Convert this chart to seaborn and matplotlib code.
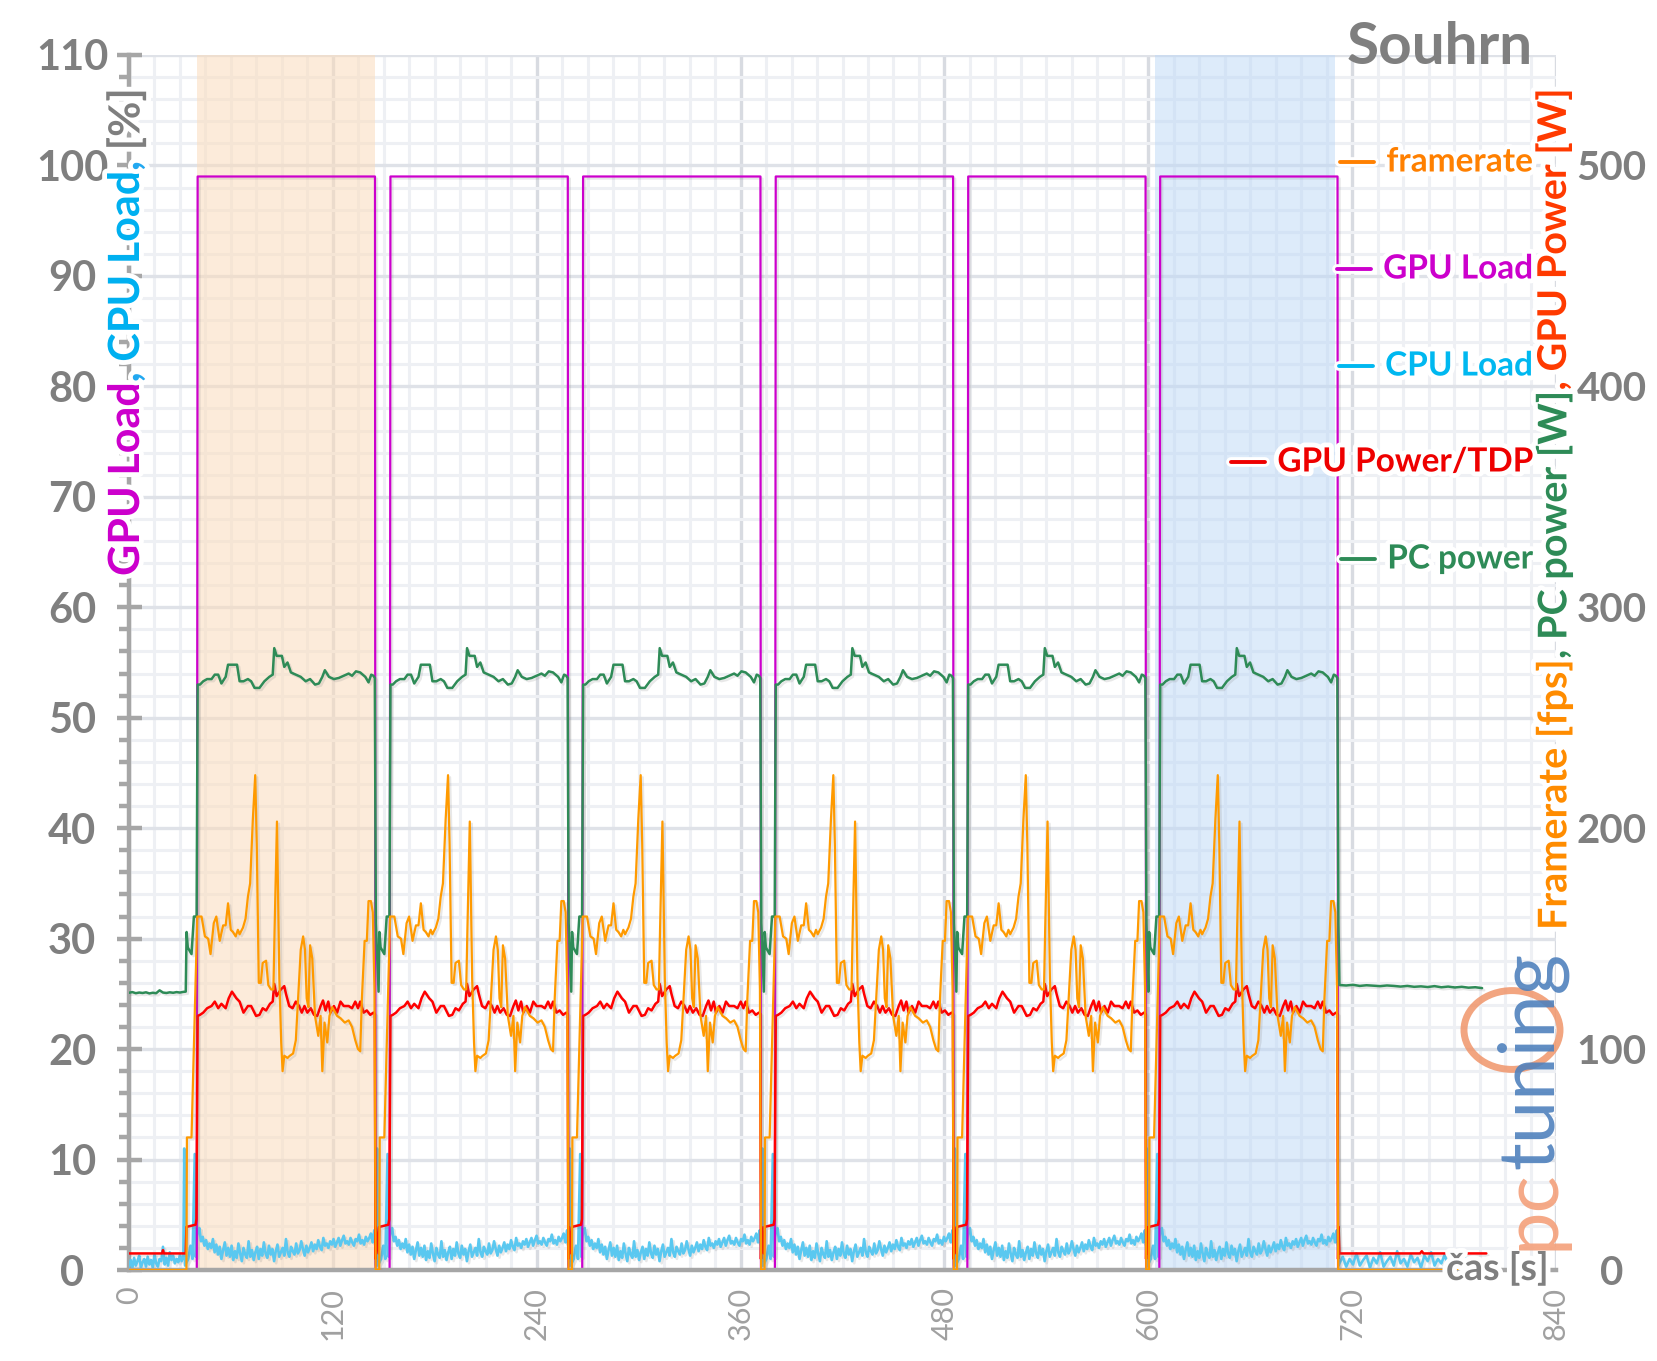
import numpy as np
import pandas as pd
import matplotlib
matplotlib.use("Agg")
import matplotlib.pyplot as plt
import seaborn as sns
from matplotlib import patheffects as pe
from matplotlib.lines import Line2D
from matplotlib.patches import Circle

sns.set_theme(style="white")
plt.rcParams["font.family"] = ["Lato", "DejaVu Sans"]

# ---------------- data ----------------
run_starts = [40.4, 153.9, 267.3, 380.7, 494.0, 607.0]
shade_orange = [40.0, 145.0]
shade_blue = [604.0, 710.0]

# GPU load [%]
gl_idle_pre_t = [0, 33]
gl_idle_pre_v = [0, 0]
gl_pre_rel = [-0.5]
gl_pre_v = [0]
gl_run_rel = [0.0, 104.4]
gl_run_v = [99, 99]
gl_post_rel = [104.7]
gl_post_v = [0]
gl_idle_post_t = [712.5, 799]
gl_idle_post_v = [0, 0]

# CPU load [%]
cpu_idle_pre_t = list(range(0, 33))
cpu_idle_pre_v = [0.3, 0.9, 0.2, 1.1, 0.4, 0.8, 1.3, 0.2, 0.7, 1.0, 0.3, 1.2, 0.5,
                  0.9, 0.2, 1.4, 0.6, 0.3, 1.0, 0.8, 2.1, 0.5, 1.1, 0.4, 1.6, 0.9,
                  1.3, 0.6, 1.0, 0.7, 1.4, 0.8, 1.2]
cpu_pre_rel = [-7.9, -7.4, -5.5, -4.2, -3.0, -1.7, -1.1, -0.4]
cpu_pre_v = [11.0, 0.4, 1.0, 2.2, 1.0, 10.5, 1.2, 3.0]
cpu_run_rel = list(range(0, 105))
cpu_run_v = [3.4, 3.8, 2.6, 3.0, 2.2, 2.7, 1.9, 2.4, 2.0, 2.8,
             1.6, 2.3, 1.4, 2.1, 1.0, 1.8, 2.5, 1.3, 2.0, 1.2,
             2.2, 0.9, 1.7, 1.1, 2.4, 1.5, 0.8, 2.0, 1.4, 1.1,
             2.6, 1.2, 1.8, 0.9, 1.6, 2.1, 1.0, 1.9, 1.3, 2.5,
             1.5, 1.1, 2.2, 1.4, 1.9, 0.8, 1.7, 2.3, 1.2, 1.6,
             2.0, 1.3, 2.8, 1.6, 1.2, 2.1, 1.7, 1.4, 2.4, 1.5,
             1.8, 2.6, 1.9, 1.3, 2.2, 1.6, 2.0, 2.5, 1.7, 2.3,
             1.9, 2.7, 2.1, 1.8, 2.9, 2.2, 2.4, 2.0, 2.6, 2.3,
             2.8, 2.1, 2.5, 2.9, 2.2, 2.7, 3.1, 2.4, 2.6, 2.3,
             2.9, 2.5, 2.2, 2.8, 2.6, 3.2, 2.4, 2.7, 2.3, 3.0,
             2.6, 2.9, 3.3, 2.5, 3.6]
cpu_post_rel = [104.7, 105.0]
cpu_post_v = [2.0, 0.4]
cpu_idle_post_t = [712.5 + 2 * i for i in range(39)]
cpu_idle_post_v = [0.6, 1.2, 0.3, 1.0, 0.5, 1.5, 0.4, 0.9, 1.3, 0.2, 1.1, 0.6, 1.6,
                   0.3, 0.8, 1.2, 0.4, 1.7, 0.6, 1.0, 0.3, 1.4, 0.7, 1.1, 0.2, 1.3,
                   0.8, 1.6, 0.4, 1.0, 0.6, 1.4, 0.3, 1.2, 0.7, 1.5, 0.5, 1.1, 0.6]

# Framerate [fps]
fps_idle_pre_t = [0, 33]
fps_idle_pre_v = [0, 0]
fps_pre_rel = [-6.6, -6.3, -3.6, -0.2]
fps_pre_v = [0, 60, 60, 160]
fps_run_rel = [0.4, 2.3, 4.3, 6.2, 7.6, 9.5, 11.0, 13.0, 15.0, 16.5, 17.9, 19.5, 20.8,
               22.4, 23.7, 24.7, 26.7, 28.2, 29.6, 30.9, 32.5, 33.9, 34.8, 36.0, 37.2,
               38.3, 40.3, 41.6, 43.2, 44.6, 45.3, 46.7, 48.1, 49.2, 50.0, 51.0, 52.9,
               54.3, 56.2, 57.8, 59.4, 60.7, 62.1, 63.2, 64.2, 65.2, 66.2, 67.5, 69.1,
               71.0, 72.4, 73.4, 74.7, 76.3, 77.6, 79.2, 82.1, 84.1, 86.6, 88.9, 90.9,
               92.8, 94.4, 95.7, 96.7, 98.3, 99.6, 100.6, 102.0, 103.1, 104.1]
fps_run_v = [160, 160, 151, 150, 143, 157, 160, 149, 156, 156, 166, 154, 153,
             151, 154, 152, 155, 159, 169, 175, 204, 224, 193, 130, 130,
             139, 140, 129, 127, 127, 154, 203, 132, 103, 90, 97, 96,
             97, 98, 104, 127, 145, 151, 145, 123, 119, 147, 141, 115,
             106, 115, 90, 112, 103, 115, 119, 115, 114, 112, 113, 110,
             104, 100, 99, 123, 149, 149, 167, 167, 162, 127]
fps_post_rel = [104.8]
fps_post_v = [0]
fps_idle_post_t = [712.5, 799]
fps_idle_post_v = [0, 0]

# PC power [W]
pc_idle_pre_t = list(range(0, 33, 2))
pc_idle_pre_v = [125.5, 125.8, 125.3, 125.6, 125.4, 125.7, 125.2, 125.5, 125.3,
                 126.6, 125.6, 125.4, 125.7, 125.5, 125.8, 125.6, 125.9]
pc_pre_rel = [-7.0, -6.5, -5.8, -3.6, -2.2, -0.6]
pc_pre_v = [126, 153, 146, 143, 160, 160]
pc_run_rel = [0.0, 1.4, 3.3, 5.6, 8.2, 10.1, 12.1, 14.0, 16.5, 17.9, 19.8, 23.2, 24.7,
              27.0, 29.6, 31.5, 33.5, 36.4, 39.3, 42.2, 44.2, 45.1, 46.5, 49.6, 51.0,
              52.9, 54.9, 57.8, 60.7, 63.6, 66.2, 69.1, 71.4, 73.4, 74.9, 77.3, 80.2,
              83.1, 86.0, 88.9, 90.9, 93.2, 95.7, 98.7, 100.6, 102.2, 103.5, 104.3]
pc_run_v = [265, 265, 266.5, 267.5, 267.5, 269.5, 269.5, 265.5, 268.5, 274, 274, 274, 266.5,
            266.5, 267.5, 266.5, 263.5, 263.5, 266.5, 268.5, 269.5, 281.5, 278, 278, 273,
            275, 270.5, 269.5, 268.5, 266.5, 267.5, 265, 265.5, 268.5, 271.5, 268.5, 267.5,
            268, 269, 270, 269, 271, 270.5, 268.5, 266, 269.5, 269, 268]
pc_post_rel = [104.9]
pc_post_v = [157]
pc_idle_post_t = [712.5 + 4 * i for i in range(22)]
pc_idle_post_v = [129.0, 128.8, 129.1, 128.6, 128.9, 128.7, 128.5, 128.8, 128.6, 128.3,
                  128.6, 128.2, 128.4, 128.1, 128.5, 128.0, 128.3, 127.9, 128.2, 127.8,
                  128.0, 127.6]

# GPU power [W]
gp_idle_pre_t = [0, 19.5, 20.0, 20.5, 33.0]
gp_idle_pre_v = [7.5, 7.5, 9.0, 7.5, 7.5]
gp_pre_rel = [-7.0, -6.6, -1.2, -0.7]
gp_pre_v = [7.5, 19.5, 20.5, 23]
gp_run_rel = [0.0, 1.4, 3.3, 5.6, 8.2, 10.1, 12.1, 14.0, 16.5, 18.3, 20.2, 22.8, 24.7,
              27.0, 29.6, 31.5, 34.4, 36.4, 38.3, 40.3, 42.6, 44.2, 45.1, 46.5, 49.0,
              51.0, 52.0, 53.9, 55.9, 57.8, 59.7, 61.3, 62.9, 64.6, 66.6, 68.5, 70.4,
              72.4, 73.8, 75.3, 76.9, 78.2, 80.2, 82.1, 84.1, 86.0, 88.9, 90.9, 92.8,
              94.4, 95.7, 97.7, 99.6, 101.6, 103.5, 104.3]
gp_run_v = [115, 115.5, 116.5, 118.5, 119.5, 121.5, 118.5, 120.5, 118.5, 123, 126, 123, 121.5,
            116.5, 119.5, 119.5, 115, 115.5, 118.5, 117.5, 120.5, 121.5, 129.5, 124, 127,
            128.5, 125, 119.5, 118.5, 121.5, 119.5, 116.5, 119.5, 116.5, 118.5, 115.5, 115,
            119.5, 122, 117.5, 121.5, 116.5, 119.5, 116.5, 121.5, 119.5, 119.5, 118.5, 121.5,
            118.5, 121.5, 116.5, 117.5, 115.5, 116.5, 116]
gp_post_rel = [104.7, 105.0]
gp_post_v = [5, 19.5]
gp_idle_post_t = [712.5, 760, 761, 762, 799]
gp_idle_post_v = [7.5, 7.5, 8.5, 7.5, 7.5]


def build(ipt, ipv, prr, prv, rr, rv, por, pov, iqt, iqv):
    t = list(ipt)
    v = list(ipv)
    for s in run_starts:
        for seg_r, seg_v in ((prr, prv), (rr, rv), (por, pov)):
            t += [s + r for r in seg_r]
            v += list(seg_v)
    t += list(iqt)
    v += list(iqv)
    return pd.DataFrame({"t": t, "v": v})


df_gl = build(gl_idle_pre_t, gl_idle_pre_v, gl_pre_rel, gl_pre_v, gl_run_rel, gl_run_v,
              gl_post_rel, gl_post_v, gl_idle_post_t, gl_idle_post_v)
df_cpu = build(cpu_idle_pre_t, cpu_idle_pre_v, cpu_pre_rel, cpu_pre_v, cpu_run_rel, cpu_run_v,
               cpu_post_rel, cpu_post_v, cpu_idle_post_t, cpu_idle_post_v)
df_fps = build(fps_idle_pre_t, fps_idle_pre_v, fps_pre_rel, fps_pre_v, fps_run_rel, fps_run_v,
               fps_post_rel, fps_post_v, fps_idle_post_t, fps_idle_post_v)
df_pc = build(pc_idle_pre_t, pc_idle_pre_v, pc_pre_rel, pc_pre_v, pc_run_rel, pc_run_v,
              pc_post_rel, pc_post_v, pc_idle_post_t, pc_idle_post_v)
df_gp = build(gp_idle_pre_t, gp_idle_pre_v, gp_pre_rel, gp_pre_v, gp_run_rel, gp_run_v,
              gp_post_rel, gp_post_v, gp_idle_post_t, gp_idle_post_v)

# ---------------- figure ----------------
W, H = 1658, 1361
fig = plt.figure(figsize=(W / 100, H / 100), dpi=100)
ax = fig.add_axes([129 / W, 1 - 1270 / H, (1556 - 129) / W, (1270 - 55) / H])
ax2 = ax.twinx()

GRAY = "#7f7f7f"
SPINE = "#a6a6a6"

ax.set_xlim(0, 840)
ax.set_ylim(0, 110)
ax2.set_ylim(0, 550)

ax.set_xticks(range(0, 841, 120))
ax.set_xticks(range(0, 841, 15), minor=True)
ax.set_yticks(range(0, 111, 10))
ax.set_yticks(range(0, 111, 2), minor=True)
ax2.set_yticks(range(0, 501, 100))

ax.grid(which="minor", color="#eef0f4", lw=2.2)
ax.grid(which="major", axis="y", color="#dfe2e8", lw=2.4)
ax.grid(which="major", axis="x", color="#d8dbe1", lw=2.4)
ax.set_axisbelow(True)

for sp in ["top", "right"]:
    ax.spines[sp].set_visible(False)
for sp in ["top", "right", "left", "bottom"]:
    ax2.spines[sp].set_visible(False)
ax.spines["left"].set_color(SPINE)
ax.spines["left"].set_linewidth(3.2)
ax.spines["bottom"].set_color(SPINE)
ax.spines["bottom"].set_linewidth(3.2)
ax.spines["left"].set_zorder(1.5)

ax.tick_params(axis="y", which="major", direction="inout", length=18, width=3.2,
               color=SPINE, labelsize=30, labelcolor=GRAY, pad=32, left=True)
ax.tick_params(axis="y", which="minor", direction="out", length=7, width=3.2,
               color=SPINE, left=True)
ax.tick_params(axis="x", which="both", length=0, labelsize=22, labelcolor="#a0a0a0",
               pad=12, labelrotation=90)
for lab in ax.get_yticklabels():
    lab.set_fontweight("bold")
    lab.set_ha("center")
ax2.tick_params(axis="y", length=0, labelsize=29, labelcolor=GRAY, pad=40)
for lab in ax2.get_yticklabels():
    lab.set_fontweight("bold")
    lab.set_ha("center")

# shaded regions
ax.axvspan(*shade_orange, color="#fbdcbc", alpha=0.55, lw=0, zorder=0.8)
ax.axvspan(*shade_blue, color="#bcd8f6", alpha=0.5, lw=0, zorder=0.8)

shadow = [pe.SimpleLineShadow(offset=(1.5, -1.5), shadow_color="#808080", alpha=0.18), pe.Normal()]

kw = dict(x="t", y="v", estimator=None, sort=False, legend=False)
sns.lineplot(data=df_cpu, ax=ax, color="#5ac8f0", lw=1.9, **kw)
sns.lineplot(data=df_gl, ax=ax, color="#cc00cc", lw=1.6, **kw)
sns.lineplot(data=df_pc, ax=ax2, color="#2e8b57", lw=1.8, **kw)
sns.lineplot(data=df_gp, ax=ax2, color="#ff0000", lw=1.8, **kw)
sns.lineplot(data=df_fps, ax=ax2, color="#ff9a00", lw=1.6, **kw)
for a in (ax, ax2):
    for ln in a.get_lines():
        ln.set_path_effects(shadow)
ax.set_xlabel("")
ax.set_ylabel("")
ax2.set_xlabel("")
ax2.set_ylabel("")

glow = [pe.withStroke(linewidth=7, foreground="white")]

# title
fig.text(1533 / W, 1 - 48 / H, "Souhrn", ha="right", va="center", fontsize=42,
         fontweight="bold", color=GRAY)

fig.canvas.draw()
renderer = fig.canvas.get_renderer()


def text_width(s, size, weight="bold"):
    t1 = fig.text(0, 0, s + "x", fontsize=size, fontweight=weight)
    t2 = fig.text(0, 0, "x", fontsize=size, fontweight=weight)
    w = t1.get_window_extent(renderer).width - t2.get_window_extent(renderer).width
    t1.remove()
    t2.remove()
    return w


def vertical_multicolor(pieces, xc, ybottom, size):
    y = ybottom
    for s, c in pieces:
        fig.text(xc / W, y / H, s, rotation=90, ha="center", va="bottom",
                 rotation_mode="default", fontsize=size, fontweight="bold", color=c,
                 path_effects=glow, zorder=5)
        y += text_width(s, size)


left_pieces = [("GPU Load", "#cc00cc"), (", ", "#22a8f0"), ("CPU Load", "#00b0f0"),
               (", ", "#22a8f0"), ("[%]", GRAY)]
vertical_multicolor(left_pieces, 126, H - 576, 31)

right_pieces = [("Framerate [fps]", "#ff8c00"), (", ", "#2e8b57"), ("PC power [W]", "#2e8b57"),
                (", ", "#ff3a00"), ("GPU Power [W]", "#ff3a00")]
vertical_multicolor(right_pieces, 1554, H - 930, 28.5)

# legend (manual, right aligned)
legend_items = [("framerate", "#ff8000", 162), ("GPU Load", "#cc00cc", 269),
                ("CPU Load", "#00b8f0", 366), ("GPU Power/TDP", "#ee0000", 462),
                ("PC power", "#2e8b57", 559)]
for lab, col, yy in legend_items:
    tx = fig.text(1533 / W, 1 - yy / H, lab, ha="right", va="center", fontsize=24,
                  fontweight="bold", color=col, path_effects=glow, zorder=6)
    bb = tx.get_window_extent(renderer)
    x1 = bb.x0 - 12
    x0 = x1 - 34
    fig.add_artist(Line2D([x0 / W, x1 / W], [1 - yy / H, 1 - yy / H], color=col, lw=2.8,
                          transform=fig.transFigure, zorder=6,
                          path_effects=[pe.withStroke(linewidth=7, foreground="white")]))

# x axis label
fig.text(1549 / W, 1 - 1268 / H, "čas [s]", ha="right", va="center", fontsize=27,
         fontweight="bold", color=GRAY, path_effects=glow, zorder=6)

# logo
circ = Circle((1512 / W, 1 - 1030 / H), 48 / W, transform=fig.transFigure, fill=False,
              edgecolor="#f0956a", lw=5, alpha=0.85, zorder=6)
fig.add_artist(circ)
ty = H - 1250
for s, c in [("pc", "#f4a07a"), ("tuning", "#4f81bd")]:
    fig.text(1532 / W, ty / H, s, rotation=90, ha="center", va="bottom", fontsize=56,
             color=c, alpha=0.9, zorder=7)
    ty += text_width(s, 56, "normal")

fig.savefig("out.png", dpi=100)
